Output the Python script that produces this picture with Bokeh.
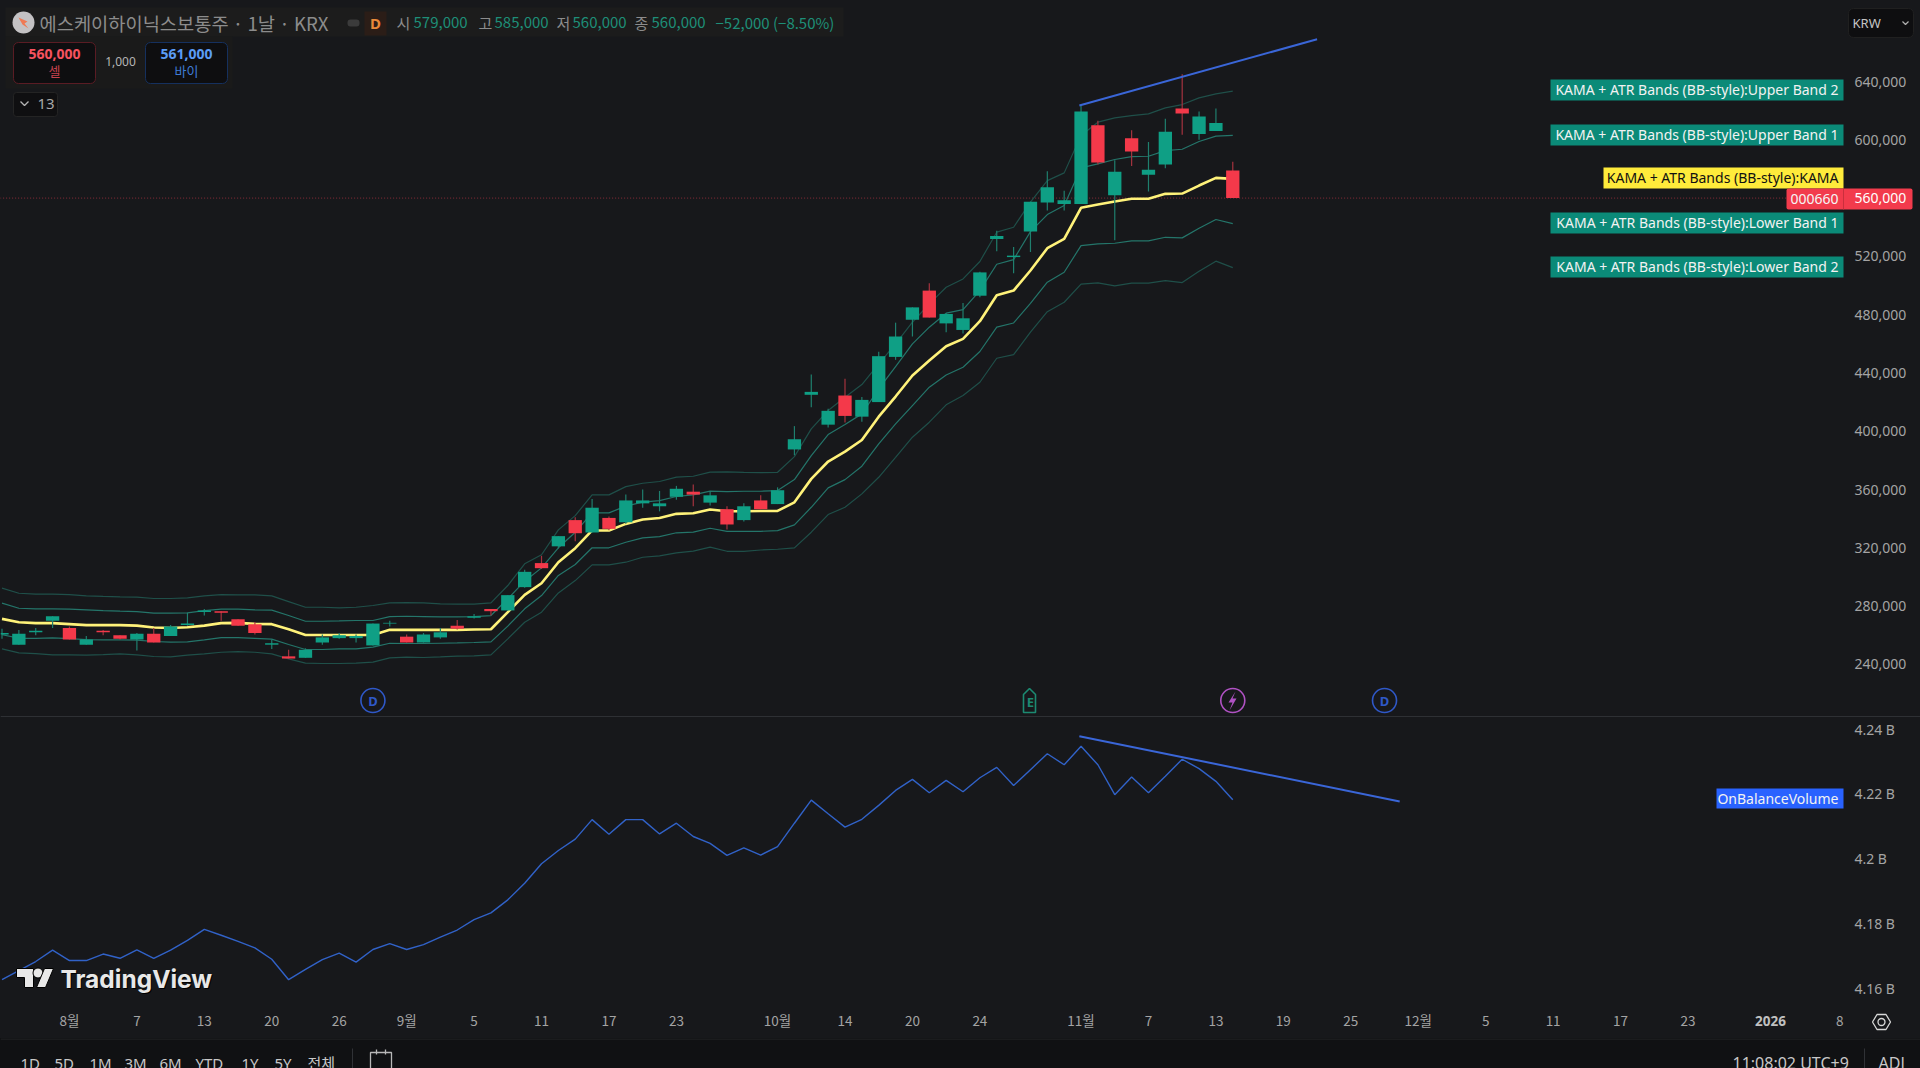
from bokeh.plotting import figure
from bokeh.layouts import column
from bokeh.models import Range1d, FixedTicker, LinearAxis
from bokeh.core.properties import value
from bokeh.embed import file_html
from bokeh.resources import INLINE

BG = "#17181b"
STRIP = "#101113"
UP = "#0f9f85"
DOWN = "#f4394a"
UP_WICK = "#1f7f6e"
DOWN_WICK = "#a5333f"
SANS = "Noto Sans"
CJK = "Noto Sans CJK KR"

# daily bars, prices in thousand KRW
open_ = [260.5,253.5,262,270,265,253.5,263,260,257,261,259.5,267,276,276.5,271,267.5,253.5,245.5,244.5,255,258,258,253,268,259,255,258.5,266.5,272,278,277,293,309.5,321,339,330.5,340.5,337.5,350.5,348.5,355,358.5,351,346.5,339,352.5,350,387.5,425,404.5,424.5,410,420,451,476.5,496.5,474,469.5,493,532,519.5,537,557,556,556,610,562,601,576,583,621.5,604,606,579]
high = [264.5,263.5,265,273,266,259.5,263.5,260,261.5,265,267,275.5,278,276.5,271,269,257,250,251,260.5,261.5,260.5,268,270,260.5,261.5,265,270.5,274.5,278,287.5,305,314.5,328,341,353.5,341.5,356.5,360,359,362.5,363.5,359,348.5,350.5,356,361.5,403.5,439,415.5,436,423.5,454.5,474.5,485,501.5,481,488,509.5,537.5,526.5,557.5,578.5,565,623.5,613,586,606.5,598.5,614.5,645,619.5,621.5,585]
low = [257.5,253.5,260,265,257,253.5,260,257,249.5,255,259.5,266.5,273.5,270,266.5,260.5,250.5,244,244.5,253.5,257.5,255,253,266,255,255,257.5,264,271.5,273.5,277,292.5,305.5,319.5,324.5,330.5,332,336.5,347.5,345,353,348.5,349,332.5,338,346.5,350,383.5,416.5,402.5,406,406.5,420,449,465,478,468,467,492,523.5,508.5,523,551.5,551.5,556,583,531,582,564.5,580.5,603.5,600,606,560]
close = [261.5,261,263,273,257,257,262,257.5,261,255,266,268,277,275.5,266.5,261.5,254.5,244,250,258.5,260,259.5,268,268.5,255,260.5,262,264.5,273,276.5,287.5,303.5,306,328,330,347.5,333,352.5,352.5,350.5,360.5,356.5,356,336,348.5,346.5,359.5,394.5,427,414,410.5,421.5,451.5,465,485,478,480.5,477.5,509,534,520.5,557.5,567.5,558.5,619.5,584.5,578,592,579.5,605.5,618,616,611.5,560]

kama = [271.2,268.9,268.3,268.3,267.6,266.9,266.9,266.9,266.6,265.3,265.0,265.5,266.6,268.3,268.5,267.8,267.6,264.1,260.2,260.2,260.2,260.2,260.2,263.7,263.7,263.7,
        263.7,263.7,263.9,264.1,275.8,287.7,295.7,310.1,319.7,331.9,331.9,336.4,339.4,340.5,343.3,343.7,346.3,345.1,345.1,
        345.3,345.3,351.2,367.3,379.2,386,394,410,423.8,438.2,448.5,458.3,463.4,475.5,493.3,
        496.5,510.3,525.6,532,553.3,555.6,557.6,559.5,559.5,562.9,563.1,568.6,573.9,573.2]
upper1 = [282,278.5,278.1,278.1,277.9,277.4,276.9,276.5,276.2,275.1,275.1,275.3,276.9,277.9,277.9,277.4,277.2,273.5,269.6,269.6,269.8,270.1,270.1,272.8,273,272.8,
          272.6,272.6,272.8,273.5,285,297.1,306.2,320,330.7,344,344,348.6,351.3,352.4,355.2,356.3,358.9,
          358.6,358.8,358.8,359.3,366.8,383.3,397.7,404.6,411.9,429,444.4,459.9,471.4,481,483.5,496.5,
          514.6,517.8,537,548.7,554.9,580.7,583.5,586.5,588.5,588.7,592.6,593.5,598.8,602.5,603]
upper2 = [292.3,288.8,288.2,288.2,287.9,287,286.6,286.3,286.1,285.2,285.2,285.6,287,287.9,287.7,287.7,287,283.1,279.2,279.2,278.8,279.2,280.4,282.2,282.4,282.2,
          281.5,281.3,281.3,282.2,294.1,309,315.2,332.3,342.1,356.3,356.3,362,364.3,365.5,368.5,369.1,371.9,
          372.1,371.8,371.6,371.8,382.6,401.6,414.2,423.3,432,446.2,459.9,474.8,487.4,498.8,504.5,516.5,536.6,
          540,557.2,572,577.3,602.9,612.1,615,616.6,617.8,621.9,624.2,628.8,631.5,633.4]
lower1 = [260.4,257.9,257.9,258.2,257.7,257,256.8,256.8,256.6,255.7,255.2,255.4,256.8,258.4,258.4,257.9,257.3,253.6,250.2,250.2,250.6,250.6,251.8,254.5,254.3,254.3,
          254.5,254.7,255,255.4,266.2,278.1,287.2,301,308.5,320,320,323.8,326.8,327.7,330.3,330.7,333.4,
          331.3,331.3,331.3,331.8,335.7,347.8,361.1,366.8,376,391.3,405,417.6,430.2,438.6,443.9,454.7,471.4,474.3,
          487.8,502.3,509.1,527.4,528.6,529,530.6,530.6,533.1,532.7,539.3,545.3,542.5]
lower2 = [250.6,247.9,247.4,246.5,246.5,246.3,246.7,247.2,246.5,245.4,245.1,246.3,247.2,248.3,248.8,248.3,247.2,243.8,240.8,240.6,240.6,240.8,241.5,244.5,244.9,244.7,
          245.1,245.6,245.8,246.5,257.5,268.9,275.8,289,297.5,308.3,308.3,310.1,313.5,314.5,316.5,317.7,320.5,
          317.6,317.6,318.5,319,319.9,330.7,342.8,347.8,357,368.4,382.1,395.9,406.2,418.1,424.5,433.6,450.1,452.6,
          468,482,488.5,501,501.8,499.7,501.6,501.6,503.4,502,509.8,516.7,512.3]
obv = [4.1628,4.1656,4.1684,4.1719,4.1687,4.1687,4.1707,4.1694,4.1720,4.1694,4.1719,4.1749,4.1783,4.1765,4.1746,4.1726,4.1691,4.1628,4.1660,4.1690,4.1710,4.1682,4.1721,4.1739,4.1721,4.1736,4.1759,4.1781,4.1813,4.1834,4.1874,
       4.1925,4.1985,4.2026,4.2061,4.2121,4.2076,4.2121,4.2121,4.2077,4.2110,4.2069,4.2048,4.2011,4.2034,4.2012,4.2038,4.2110,4.2181,4.2139,4.2098,4.2122,4.2165,4.2211,4.2245,4.2204,4.2242,4.2207,4.2250,4.2282,
       4.2226,4.2275,4.2324,4.2290,4.2347,4.2290,4.2198,4.2252,4.2204,4.2255,4.2307,4.2278,4.2239,4.2182]

price_trend_x = [63.9, 78.0]
price_trend_y = [623.5, 669.0]
obv_trend_x = [63.9, 82.9]
obv_trend_y = [4.2378, 4.2177]
last_price = 560

price_ticks = [240,280,320,360,400,440,480,520,600,640]
price_tick_labels = ["240,000","280,000","320,000","360,000","400,000","440,000","480,000","520,000","600,000","640,000"]
obv_ticks = [4.16,4.18,4.2,4.22,4.24]
obv_tick_labels = ["4.16 B","4.18 B","4.2 B","4.22 B","4.24 B"]
date_ticks = [4,8,12,16,20,24,28,32,36,40,46,50,54,58,64,68,72,76,80,84,88,92,96,100,105,109]
date_labels = ["8월","7","13","20","26","9월","5","11","17","23","10월","14","20","24","11월","7","13","19","25","12월","5","11","17","23","","8"]

event_x = [22, 61, 73, 82]
event_letters = ["D", "E", "", "D"]

x_range = Range1d(-0.089, 113.79)
AXIS_X = 109.22          # bar position of the price scale
idx = list(range(len(close)))


def make(height, y_range, py0, py1):
    f = figure(width=1920, height=height, x_range=x_range, y_range=y_range, output_backend="svg", toolbar_location=None,
               background_fill_color=None, border_fill_color=None, outline_line_color=None,
               x_axis_location=None, y_axis_location=None, min_border=0,
               styles={"background-color": BG})
    f.grid.visible = False
    f.extra_x_ranges = {"px": Range1d(0, 1920)}
    f.extra_y_ranges = {"px": Range1d(py1, py0)}
    return f


def style_axis(ax):
    ax.axis_line_color = None
    ax.major_tick_line_color = None
    ax.minor_tick_line_color = None
    ax.major_tick_out = 0
    ax.major_label_text_color = "#a4a4a4"
    ax.major_label_text_font = SANS
    ax.major_label_text_font_size = "14px"


def price_axis(f, ticks, labels):
    ax = LinearAxis(ticker=FixedTicker(ticks=ticks), major_label_overrides=dict(zip(ticks, labels)),
                    fixed_location=AXIS_X)
    style_axis(ax)
    ax.major_label_standoff = 11
    f.add_layout(ax, "right")


def txt(f, x, y, s, color, size, align="left", font=SANS, style="normal", alpha=1.0):
    f.text(x=[x], y=[y], text=[s], x_range_name="px", y_range_name="px", text_color=color,
           text_font=value(font), text_font_size=f"{size}px", text_align=align,
           text_baseline="middle", text_font_style=style, text_alpha=alpha)


def box(f, x0, y0, x1, y1, fill, line=None, radius=0, alpha=1.0):
    f.quad(left=[x0], right=[x1], top=[y0], bottom=[y1], x_range_name="px", y_range_name="px",
           fill_color=fill, fill_alpha=alpha, line_color=line, border_radius=radius)


def outline(f, xs, ys, color, lw=1.3):
    f.line(xs + xs[:1], ys + ys[:1], x_range_name="px", y_range_name="px", line_color=color, line_width=lw)


# ---------- price pane ----------
A = make(717, Range1d(203.53, 695.6), 0, 717)
price_axis(A, price_ticks, price_tick_labels)

A.line(x=[-1, 105.9], y=[last_price, last_price], line_color="#8a2d38", line_dash="1 2", line_width=1)
A.line(idx, upper2, line_color="#1f4f49", line_width=1.2)
A.line(idx, lower2, line_color="#1f4f49", line_width=1.2)
A.line(idx, upper1, line_color="#24756a", line_width=1.2)
A.line(idx, lower1, line_color="#24756a", line_width=1.2)
A.line(idx, kama, line_color="#fff27a", line_width=2.6)

wick_colors = [UP_WICK if c >= o else DOWN_WICK for o, c in zip(open_, close)]
body_colors = [UP if c >= o else DOWN for o, c in zip(open_, close)]
A.segment(x0=idx, x1=idx, y0=low, y1=high, line_color=wick_colors, line_width=1.2)
A.vbar(x=idx, width=0.79, top=[max(o, c) for o, c in zip(open_, close)],
       bottom=[min(o, c) for o, c in zip(open_, close)], fill_color=body_colors, line_color=None)
A.line(price_trend_x, price_trend_y, line_color="#3a66d8", line_width=2)

# header
box(A, 5, 7, 843, 36, "#1c1c1c", None)
A.scatter([23], [22], x_range_name="px", y_range_name="px", size=22, marker="circle", fill_color="#c4c2c4", line_color=None)
A.patch([18, 27, 24, 28, 22], [17, 21, 23, 28, 24], x_range_name="px", y_range_name="px", fill_color="#ef7a55", line_color=None)
txt(A, 39, 22, "에스케이하이닉스보통주 · 1날 · KRX", "#8c8c8c", 18.7, font=CJK)
box(A, 347, 19, 359, 26, "#3b3b3b", None, radius=3)
box(A, 364, 11, 386, 35, "#2b1d17", None)
txt(A, 375, 22, "D", "#e8893a", 15, align="center", style="bold")
for x, s, c in [(396, "시", "#8c8c8c"), (413, "579,000", "#1e8f78"), (478, "고", "#8c8c8c"), (494, "585,000", "#1e8f78"),
                (556, "저", "#8c8c8c"), (572, "560,000", "#1e8f78"), (634, "종", "#8c8c8c"), (651, "560,000", "#1e8f78"),
                (715, "−52,000 (−8.50%)", "#1e8f78")]:
    txt(A, x, 22, s, c, 15, font=CJK)

box(A, 5, 36, 232, 88, "#1a1a1a", None)
box(A, 13, 42, 95, 83, "#0e0e10", "#5a1c24", radius=5)
txt(A, 54, 53, "560,000", "#f7525f", 14, align="center", style="bold")
txt(A, 54, 70, "셀", "#c8424e", 13, align="center", font=CJK)
txt(A, 120, 61, "1,000", "#b5b5b5", 12, align="center")
box(A, 145, 42, 227, 83, "#0e0e10", "#15305e", radius=5)
txt(A, 186, 53, "561,000", "#5b9cf6", 14, align="center", style="bold")
txt(A, 186, 70, "바이", "#3f7cd6", 13, align="center", font=CJK)
box(A, 13, 92, 57, 116, "#0f0f11", "#242424", radius=3)
A.line([20, 24, 28], [101, 105, 101], x_range_name="px", y_range_name="px", line_color="#b5b5b5", line_width=1.3)
txt(A, 37, 103, "13", "#a8a8a8", 15)

# series tags
TAG = "#0b8a78"
for y0, s in [(79, "KAMA + ATR Bands (BB-style):Upper Band 2"), (124, "KAMA + ATR Bands (BB-style):Upper Band 1"),
              (212, "KAMA + ATR Bands (BB-style):Lower Band 1"), (256, "KAMA + ATR Bands (BB-style):Lower Band 2")]:
    box(A, 1550, y0, 1843, y0 + 21, TAG)
    txt(A, 1838, y0 + 10, s, "#f2f2f2", 14, align="right")
box(A, 1603, 167, 1843, 188, "#ffeb3b", None)
txt(A, 1838, 177, "KAMA + ATR Bands (BB-style):KAMA", "#111111", 14, align="right")
box(A, 1786, 188, 1912, 209, "#f23b4c", None, radius=2)
A.line([1843, 1843], [188, 209], x_range_name="px", y_range_name="px", line_color="#c92f3d", line_width=1)
txt(A, 1838, 198, "000660", "#f5f5f5", 14, align="right")
txt(A, 1854, 197, "560,000", "#ffffff", 14)

box(A, 1848, 8, 1913, 37, "#0e0e10", "#202020", radius=5)
txt(A, 1852, 22, "KRW", "#c4c4c4", 13)
A.line([1902, 1905, 1908], [21, 24, 21], x_range_name="px", y_range_name="px", line_color="#b0b0b0", line_width=1.2)

# events
y_ev = [700] * 4
A.scatter(event_x[0::3], y_ev[0::3], y_range_name="px", marker="circle", size=24, fill_color=BG,
          line_color="#2f58c8", line_width=1.6)
A.scatter(event_x[2:3], y_ev[2:3], y_range_name="px", marker="circle", size=24, fill_color=BG,
          line_color="#b052c4", line_width=1.6)
A.patch([1023, 1029, 1035, 1035, 1023], [694, 688, 694, 712, 712], x_range_name="px", y_range_name="px",
        fill_color=BG, line_color="#1c8a72", line_width=1.6)
A.text(event_x, [700, 701, 700, 700], text=event_letters, y_range_name="px", text_color=["#2f58c8", "#1c8a72", "#b052c4", "#2f58c8"],
       text_font=value(SANS), text_font_size="13px", text_font_style="bold", text_align="center", text_baseline="middle")
A.patch([1235, 1228, 1232, 1229, 1236, 1232], [691, 702, 702, 710, 698, 698], x_range_name="px", y_range_name="px",
        fill_color="#b052c4", line_color=None)
A.line([0, 1920], [716, 716], x_range_name="px", y_range_name="px", line_color="#2e3034", line_width=1)

# ---------- OBV pane ----------
B = make(321, Range1d(4.14469, 4.24356), 717, 1038)
price_axis(B, obv_ticks, obv_tick_labels)
xaxis = LinearAxis(ticker=FixedTicker(ticks=date_ticks), major_label_overrides=dict(zip(date_ticks, date_labels)),
                   fixed_location=4.15547)
style_axis(xaxis)
xaxis.major_label_standoff = 6
xaxis.major_label_text_font = CJK
xaxis.major_label_text_font_size = "13.5px"
B.add_layout(xaxis, "below")

B.line(idx, obv, line_color="#3162c8", line_width=1.4)
B.line(obv_trend_x, obv_trend_y, line_color="#3a66d8", line_width=2)
box(B, 1716, 788, 1843, 808, "#2962ff", None)
txt(B, 1838, 798, "OnBalanceVolume", "#f2f2f2", 14, align="right")

# logo
lg = "#e8e8e8"
B.patch([16, 33, 33, 24, 24, 16], [968, 968, 987, 987, 977, 977], x_range_name="px", y_range_name="px", fill_color=lg, line_color="#000000")
B.scatter([37.5], [972.5], x_range_name="px", y_range_name="px", marker="circle", size=10, fill_color=lg, line_color="#000000")
B.patch([44, 53, 45, 36], [968, 968, 987, 987], x_range_name="px", y_range_name="px", fill_color=lg, line_color="#000000")
txt(B, 61, 979, "TradingView", "#000000", 24.5, font="Inter", style="bold")
txt(B, 60, 978, "TradingView", lg, 24.5, font="Inter", style="bold")

txt(B, 1770, 1020, "2026", "#c0c0c0", 13.5, align="center", style="bold")
outline(B, [1872, 1876.5, 1885.5, 1890, 1885.5, 1876.5], [1021.5, 1014, 1014, 1021.5, 1029, 1029], "#d8d8d8")
B.scatter([1881], [1021.5], x_range_name="px", y_range_name="px", marker="circle", size=7, fill_color=None, line_color="#d8d8d8", line_width=1.3)

# ---------- bottom strip ----------
C = figure(width=1920, height=30, x_range=Range1d(0, 1920), y_range=Range1d(1068, 1038), output_backend="svg",
           toolbar_location=None, background_fill_color=None, border_fill_color=None, outline_line_color=None,
           x_axis_location=None, y_axis_location=None, min_border=0, styles={"background-color": STRIP})
C.grid.visible = False
C.line([0, 1920], [1038.5, 1038.5], line_color="#26282b", line_width=1)
for x, s in [(20, "1D"), (54, "5D"), (89, "1M"), (124, "3M"), (159, "6M"), (195, "YTD"), (241, "1Y"), (274, "5Y"), (307, "전체")]:
    C.text([x], [1062], text=[s], text_color="#c8c8c8", text_font=value(CJK if s == "전체" else SANS), text_font_size="15px",
           text_baseline="middle")
for x, s in [(1732, "11:08:02 UTC+9"), (1878, "ADJ")]:
    C.text([x], [1062], text=[s], text_color="#c8c8c8", text_font=value(SANS), text_font_size="16px", text_baseline="middle")
C.line([352, 352], [1048, 1068], line_color="#303236")
C.line([1864, 1864], [1048, 1068], line_color="#303236")
C.quad(left=[370], right=[391], top=[1052], bottom=[1070], fill_color=None, line_color="#b8b8b8", line_width=1.3)
C.line([376, 376], [1049, 1054], line_color="#b8b8b8", line_width=1.3)
C.line([385, 385], [1049, 1054], line_color="#b8b8b8", line_width=1.3)

root = column(A, B, C, spacing=0)
open("out.html", "w").write(file_html(root, INLINE))
